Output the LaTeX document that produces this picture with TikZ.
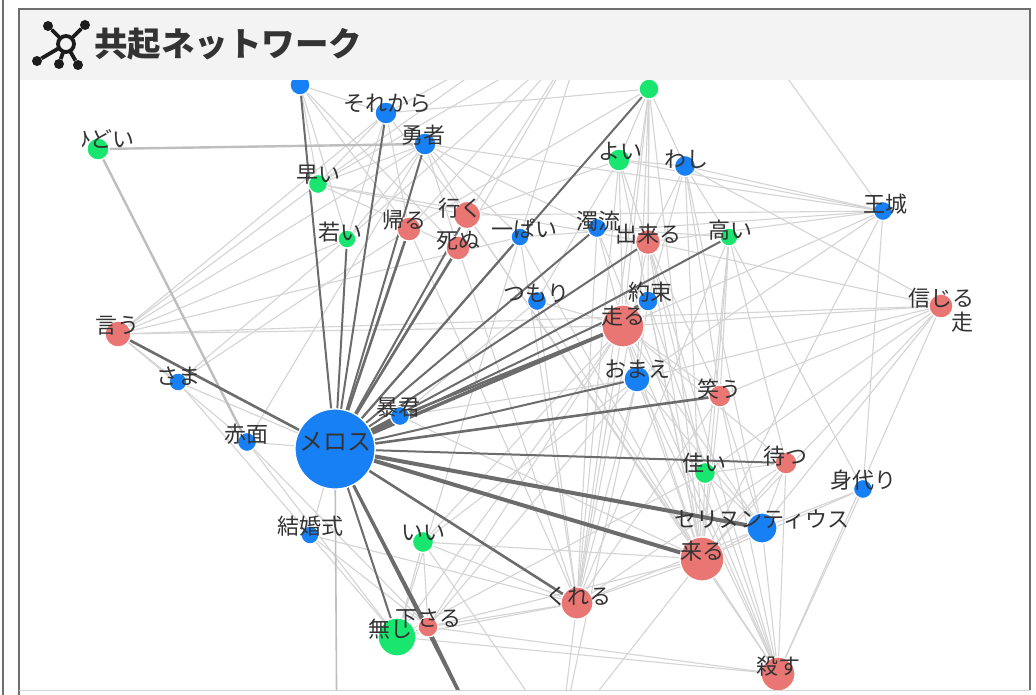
\documentclass[tikz,border=0pt]{standalone}
\usepackage{fontspec}
\newfontfamily\jp{Noto Sans CJK JP}
\newcommand\labfont{\jp\fontsize{22}{22}\selectfont}
\newcommand\titlefont{\jp\bfseries\fontsize{33.5}{33.5}\selectfont}
\definecolor{cblue}{RGB}{24,128,245}
\definecolor{cred}{RGB}{234,118,116}
\definecolor{cgreen}{RGB}{24,230,110}
\definecolor{ctext}{RGB}{51,51,51}
\definecolor{cdark}{RGB}{108,108,108}
\definecolor{clight}{RGB}{212,212,212}
\definecolor{cmid}{RGB}{190,190,190}
\definecolor{chead}{RGB}{243,243,243}
\definecolor{cframe}{RGB}{110,110,110}
\definecolor{cicon}{RGB}{28,28,28}
\pgfdeclarelayer{bgl}
\pgfdeclarelayer{edges}
\pgfsetlayers{bgl,edges,main}
\tikzset{
  nd/.style={circle, draw=white, line width=1.2pt, inner sep=0pt},
  bl/.style={nd, fill=cblue},
  rd/.style={nd, fill=cred},
  gr/.style={nd, fill=cgreen},
  lab/.style={font=\labfont, text=ctext, inner sep=0pt},
  lt/.style={draw=clight, line width=1.1pt},
  md/.style={draw=cmid, line width=2.4pt},
  dk/.style={draw=cdark, line width=2pt},
  icl/.style={draw=cicon, line width=3.8pt},
  icd/.style={circle, fill=cicon, inner sep=0pt, minimum size=10pt},
}
\begin{document}
\begin{tikzpicture}[x=1pt,y=-1pt]
\useasboundingbox (0,0) rectangle (1036,695);
\begin{pgfonlayer}{bgl}
\fill[white] (0,0) rectangle (1036,695);
\end{pgfonlayer}
% ---------- graph nodes ----------
\node[bl, minimum size=20pt] (top1) at (300,85) {};
\node[bl, minimum size=22pt] (sorekara) at (386,113) {};
\node[bl, minimum size=22pt] (yusha) at (425,144) {};
\node[gr, minimum size=22pt] (hidoi) at (98,149) {};
\node[gr, minimum size=19pt] (hayai) at (318,184) {};
\node[gr, minimum size=18pt] (wakai) at (347,239) {};
\node[rd, minimum size=24pt] (kaeru) at (409,229) {};
\node[rd, minimum size=27pt] (iku) at (467,215) {};
\node[rd, minimum size=24pt] (shinu) at (458,248) {};
\node[bl, minimum size=18pt] (ippai) at (520,237) {};
\node[bl, minimum size=19pt] (dakuryu) at (597,228) {};
\node[rd, minimum size=25pt] (dekiru) at (648,242) {};
\node[gr, minimum size=18pt] (takai) at (729,237) {};
\node[gr, minimum size=22pt] (yoi) at (619,160) {};
\node[bl, minimum size=21pt] (washi) at (685,166) {};
\node[gr, minimum size=20pt] (fukai) at (649,89) {};
\node[bl, minimum size=19pt] (ojo) at (883,211) {};
\node[bl, minimum size=19pt] (tsumori) at (537,301) {};
\node[bl, minimum size=20pt] (yakusoku) at (648,301) {};
\node[rd, minimum size=42pt] (hashiru) at (623,326) {};
\node[rd, minimum size=24pt] (shinjiru) at (941,306) {};
\node[rd, minimum size=26pt] (iu) at (118,334) {};
\node[bl, minimum size=18pt] (sama) at (178,382) {};
\node[bl, minimum size=26pt] (omae) at (637,379) {};
\node[rd, minimum size=22pt] (warau) at (720,396) {};
\node[bl, minimum size=19pt] (bokun) at (400,416) {};
\node[bl, minimum size=19pt] (sekimen) at (247,442) {};
\node[bl, minimum size=80pt] (meros) at (335,449) {};
\node[gr, minimum size=21pt] (yoi2) at (705,473) {};
\node[rd, minimum size=22pt] (matsu) at (786,463) {};
\node[bl, minimum size=19pt] (migawari) at (863,489) {};
\node[bl, minimum size=30pt] (seri) at (762,528) {};
\node[rd, minimum size=44pt] (kuru) at (702,559) {};
\node[bl, minimum size=18pt] (kekkon) at (310,535) {};
\node[gr, minimum size=21pt] (ii) at (423,542) {};
\node[rd, minimum size=32pt] (kureru) at (577,603) {};
\node[rd, minimum size=20pt] (kudasaru) at (428,627) {};
\node[gr, minimum size=38pt] (nashi) at (397,637) {};
\node[rd, minimum size=34pt] (korosu) at (778,674) {};
\coordinate (botA) at (478,730);
\coordinate (botB) at (337,760);
\coordinate (botC) at (560,740);
\coordinate (topA) at (585,30);
\coordinate (topB) at (760,40);
\coordinate (topC) at (520,40);
% ---------- edges ----------
\begin{pgfonlayer}{edges}
\begin{scope}
\clip (82,80) rectangle (1029,690);
\foreach \a/\b in {
 iu/hayai, iu/yusha, iu/sorekara, iu/ippai, iu/shinjiru, iu/hashiru, iu/sama, iu/sekimen, iu/wakai,
 sama/meros, sama/wakai, sama/kaeru, sama/kekkon,
 sekimen/yusha, sekimen/nashi, sekimen/kudasaru, sekimen/meros,
 top1/hayai, top1/wakai, top1/kaeru, top1/sorekara, top1/shinu,
 sorekara/hayai, sorekara/kaeru, sorekara/iku, sorekara/wakai, sorekara/fukai,
 yusha/iku, yusha/shinu, yusha/ippai, yusha/dakuryu, yusha/ojo, yusha/hayai, yusha/wakai,
 hayai/iku, hayai/dekiru, hayai/shinu,
 fukai/ippai, fukai/kaeru, fukai/yoi, fukai/washi, fukai/dekiru, fukai/hashiru, fukai/omae, fukai/yakusoku,
 fukai/kureru, fukai/kuru,
 yoi/hashiru, yoi/dekiru, yoi/ojo, yoi/tsumori, yoi/washi, yoi/iku, yoi/kureru, yoi/kuru,
 washi/ojo, washi/takai, washi/dekiru, washi/yakusoku, washi/shinjiru, washi/warau, washi/kuru, washi/seri,
 ojo/ippai, ojo/iku, ojo/dekiru, ojo/migawari, ojo/hashiru, ojo/omae, ojo/kuru, ojo/topB,
 shinjiru/hashiru, shinjiru/omae, shinjiru/seri, shinjiru/korosu, shinjiru/kuru, shinjiru/yoi2, shinjiru/dekiru, shinjiru/warau,
 takai/warau, takai/matsu, takai/migawari, takai/yoi2, takai/dakuryu, takai/kuru, takai/kureru,
 dekiru/yoi2, dekiru/kuru, dekiru/warau, dekiru/kureru, dekiru/korosu,
 hashiru/omae, hashiru/kureru, hashiru/kuru, hashiru/warau, hashiru/matsu, hashiru/seri, hashiru/korosu,
 omae/kuru, omae/kureru, omae/seri, omae/kudasaru, omae/korosu,
 warau/seri, warau/kuru, warau/korosu, warau/kureru,
 yoi2/matsu, yoi2/seri, yoi2/kuru, yoi2/nashi,
 matsu/seri, matsu/kuru, matsu/korosu, matsu/kureru,
 migawari/seri, migawari/korosu, migawari/kuru,
 seri/kuru, seri/korosu, seri/kureru,
 kuru/kureru, kuru/korosu, kuru/kudasaru, kuru/ii,
 kureru/kudasaru, kureru/nashi, kureru/ii,
 ii/nashi, ii/kudasaru, ii/hashiru, ii/omae,
 kudasaru/nashi, kudasaru/korosu, nashi/korosu, kudasaru/hashiru, nashi/hashiru,
 kekkon/meros, kekkon/kudasaru, kekkon/nashi, kekkon/kureru,
 bokun/tsumori, bokun/omae, bokun/kuru,
 tsumori/hashiru, tsumori/kureru, tsumori/kuru,
 yakusoku/hashiru, yakusoku/kuru, yakusoku/omae, yakusoku/korosu,
 dakuryu/kureru, dakuryu/hashiru, dakuryu/korosu,
 ippai/kuru, ippai/kureru, ippai/nashi,
 iku/kuru, iku/korosu, shinu/kureru, kaeru/kureru,
 kureru/botC, kuru/botC, omae/botC, ii/botC,
 topA/iku, topA/kaeru, topA/shinu, topC/hayai, topA/ippai, topA/hayai, topA/wakai, topC/sorekara}
 \draw[lt] (\a) -- (\b);
\draw[md] (hidoi) -- (yusha);
\draw[md] (hidoi) -- (sekimen);
\draw[md, line width=1.6pt] (meros) -- (botB);
\foreach \b in {top1,sorekara,yusha,wakai,iku,ippai,fukai,dakuryu,dekiru,takai,yakusoku,omae,matsu,nashi,kudasaru}
 \draw[dk] (meros) -- (\b);
\foreach \b in {kaeru,shinu,warau,kureru,iu}
 \draw[dk, line width=2.6pt] (meros) -- (\b);
\draw[dk, line width=3.5pt] (meros) -- (hashiru);
\draw[dk, line width=4pt] (meros) -- (seri);
\draw[dk, line width=4pt] (meros) -- (kuru);
\draw[dk, line width=4pt] (meros) -- (bokun);
\draw[dk, line width=3pt] (meros) -- (botA);
\draw[dk, line width=2.5pt] (bokun) -- (hashiru);
\draw[dk, line width=2.5pt] (kudasaru) -- (botA);
\end{scope}
\end{pgfonlayer}
% ---------- labels ----------
\begin{scope}
\clip (82,100) rectangle (200,170);
\node[lab] (hidoi-l) at (102,139) {ひどい};
\end{scope}
\node[lab] (sorekara-l) at (387,103) {それから};
\node[lab] (yusha-l) at (423,135) {勇者};
\node[lab] (hayai-l) at (318,175) {早い};
\node[lab] (wakai-l) at (340,232) {若い};
\node[lab] (kaeru-l) at (404,220) {帰る};
\node[lab] (iku-l) at (460,208) {行く};
\node[lab] (shinu-l) at (458,241) {死ぬ};
\node[lab] (ippai-l) at (524,229) {一ぱい};
\node[lab] (dakuryu-l) at (598,221) {濁流};
\node[lab] (dekiru-l) at (648,234) {出来る};
\node[lab] (takai-l) at (730,230) {高い};
\node[lab] (yoi-l) at (620,151) {よい};
\node[lab] (washi-l) at (686,159) {わし};
\node[lab] (ojo-l) at (885,204) {王城};
\node[lab] (tsumori-l) at (536,293) {つもり};
\node[lab] (yakusoku-l) at (650,292) {約束};
\node[lab] (hashiru-l) at (623,316) {走る};
\node[lab] (shinjiru-l) at (941,298) {信じる};
\node[lab] (hashiru2-l) at (962,322) {走};
\node[lab] (iu-l) at (117,326) {言う};
\node[lab] (sama-l) at (178,376) {さま};
\node[lab] (omae-l) at (637,369) {おまえ};
\node[lab] (warau-l) at (719,389) {笑う};
\node[lab] (bokun-l) at (398,408) {暴君};
\node[lab] (sekimen-l) at (246,434) {赤面};
\node[lab, font=\jp\fontsize{24}{24}\selectfont] (meros-l) at (335,442) {メロス};
\node[lab] (yoi2-l) at (704,463) {佳い};
\node[lab] (matsu-l) at (785,456) {待つ};
\node[lab] (migawari-l) at (863,480) {身代り};
\node[lab] (seri-l) at (762,520) {セリヌンティウス};
\node[lab] (kuru-l) at (702,551) {来る};
\node[lab] (kekkon-l) at (310,526) {結婚式};
\node[lab] (ii-l) at (423,533) {いい};
\node[lab] (kureru-l) at (578,596) {くれる};
\node[lab] (kudasaru-l) at (428,619) {下さる};
\node[lab] (nashi-l) at (390,629) {無し};
\node[lab] (korosu-l) at (778,666) {殺す};
% ---------- header ----------
\fill[chead] (19,9) rectangle (1030,80);
\node[anchor=west, font=\titlefont, text=ctext, inner sep=0pt] (title) at (94,44) {共起ネットワーク};
\coordinate (ic) at (66,44);
\node[icd] (d1) at (48,26) {};
\node[icd] (d2) at (85,25) {};
\node[icd] (d3) at (37,61) {};
\node[icd] (d4) at (59,64) {};
\node[icd] (d5) at (78,65) {};
\foreach \d in {d1,d2,d3,d4,d5} \draw[icl] (ic) -- (\d);
\node[circle, draw=cicon, line width=3.8pt, fill=chead, minimum size=16pt, inner sep=0pt] (ring) at (ic) {};
% ---------- frame ----------
\draw[cframe, line width=1.5pt] (3,0) -- (3,695);
\draw[cframe, line width=1.5pt] (19,695) -- (19,9) -- (1030,9) -- (1030,690);
\draw[clight, line width=1pt] (19,690) -- (1030,690);
\end{tikzpicture}
\end{document}
